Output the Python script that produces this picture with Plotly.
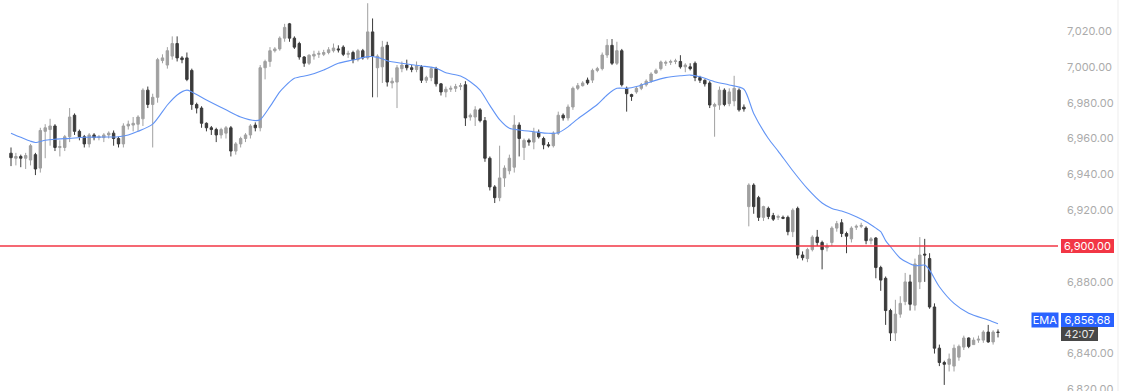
import plotly.graph_objects as go

# ---------------- data ----------------
opens = [6951.8, 6949, 6950, 6949, 6948, 6951, 6943.5, 6964, 6965, 6967,
         6955, 6955, 6961, 6973, 6964, 6961, 6957, 6962, 6960.5, 6960.5,
         6962, 6963, 6960, 6957, 6967, 6967.5, 6968, 6971, 6987, 6979,
         6983, 7003.5, 7001, 7006, 7013, 7005, 7005, 6998, 6979, 6977,
         6968.5, 6966, 6965, 6962, 6963, 6966, 6953, 6957, 6960, 6962,
         6967.5, 6966, 6999.5, 7003, 7009, 7010, 7016, 7024, 7016, 7013,
         7005.5, 7002, 7006, 7007, 7007, 7008, 7009, 7010, 7011, 7007,
         7008, 7004, 7009, 7005, 7019.5, 6999.5, 7000, 7012, 6991, 6991.5,
         6999, 7001, 6999.5, 6998.5, 7000, 6992.5, 6994, 6999, 6990.5, 6986,
         6987.5, 6988, 6989, 6990, 6972, 6972, 6976, 6970, 6949, 6933,
         6927, 6938, 6942, 6944, 6967.5, 6955, 6959, 6958, 6963.5, 6960,
         6956.5, 6956, 6963, 6973, 6971.5, 6977.6, 6988, 6989.5, 6992.6, 6992.6,
         6998, 6999, 7006.6, 7012, 7002, 7009, 6988, 6984.5, 6986, 6988,
         6990, 6992, 6996.5, 6999, 7002, 7002.5, 7003, 7003, 7000, 7000,
         7002, 6994, 6992.5, 6991, 6978, 6978.7, 6987, 6979.5, 6981, 6987,
         6977.5, 6922, 6934, 6927, 6916, 6921, 6917, 6916, 6916, 6916,
         6908, 6921, 6895, 6893, 6898, 6905, 6902, 6899, 6902, 6910,
         6913, 6907, 6904, 6910.5, 6911, 6910, 6903, 6904.5, 6888, 6882,
         6864, 6851.5, 6862, 6869, 6880, 6867, 6880, 6895.5, 6893, 6866,
         6843, 6835, 6834, 6833, 6838, 6843.6, 6848.7, 6845, 6847.5, 6847.5,
         6852, 6846.5, 6852]

highs = [6955, 6952, 6951, 6952, 6957, 6952, 6966, 6968, 6971, 6968,
         6959, 6962, 6977, 6974, 6965, 6962, 6963, 6963, 6962, 6963,
         6964, 6964.5, 6961, 6968.5, 6970, 6972, 6973, 6988, 6989, 6985,
         7005, 7007, 7011, 7017, 7017, 7006, 7008, 6999, 6980, 6978,
         6969, 6967, 6966, 6966, 6967, 6967, 6958, 6961, 6963, 6968,
         6969, 7001, 7004, 7011, 7011, 7017, 7024, 7024.5, 7017, 7014,
         7006, 7007, 7009, 7009, 7009.5, 7011, 7013, 7012, 7012, 7009,
         7009, 7010, 7010, 7035.5, 7027, 7007, 7014.5, 7014, 6994, 7001,
         7003, 7004, 7001, 7003, 7001, 6995, 7000, 7000, 6991, 6989,
         6989.5, 6990.5, 6991, 6992, 6974, 6978, 6977, 6972, 6950, 6934,
         6956, 6945, 6951, 6973, 6969, 6960, 6960, 6966, 6965, 6961,
         6958, 6964, 6975, 6974, 6979, 6989, 6991, 6992, 6994, 6999,
         7000, 7008, 7015.5, 7015.5, 7014, 7010, 6989, 6985, 6989, 6991,
         6993, 6997, 6999, 7003.5, 7003.5, 7004, 7004.5, 7006.5, 7002, 7002,
         7003, 6995, 6993, 6992, 6980, 6989, 6988, 6988, 6995, 6988,
         6979, 6935, 6935, 6928, 6922.5, 6922, 6918.5, 6917.5, 6917, 6917,
         6921, 6922, 6897, 6899, 6906, 6909, 6903, 6901.5, 6911, 6914,
         6915, 6908, 6911, 6912, 6913, 6911, 6905, 6905, 6889, 6883,
         6865, 6870, 6872, 6885, 6884, 6893, 6905, 6904, 6896, 6868,
         6845, 6836, 6840, 6845, 6845, 6850, 6849, 6849, 6850, 6853,
         6856, 6853, 6853.5]

lows = [6944.6, 6945, 6944, 6943, 6945, 6939.6, 6941, 6949, 6956, 6953,
        6950, 6953, 6958, 6962, 6959, 6955, 6955, 6959, 6959, 6958,
        6960, 6956, 6955, 6955, 6965, 6964, 6964, 6967, 6977, 6955,
        6980, 7002, 6999, 7004, 7003, 7002, 6992, 6976, 6974, 6966,
        6964, 6962, 6958, 6960, 6960, 6950, 6951, 6955, 6958, 6960,
        6964, 6964, 6993, 7000, 7008, 7009, 7014, 7014, 7010, 7004,
        7000, 7001, 7004, 7005, 7006, 7007, 7008, 7008, 7006, 7005,
        7002, 7003, 7004, 7004, 6983, 6983, 6991, 6989, 6988, 6977,
        6997, 6998, 6997, 6997, 6991, 6991, 6992, 6989, 6984, 6983,
        6986, 6986, 6987, 6967, 6970, 6967, 6969, 6947, 6931, 6924,
        6925, 6933, 6940, 6941, 6950, 6948, 6956, 6954, 6960, 6954,
        6955, 6955, 6962, 6970, 6970, 6976, 6987, 6989, 6990, 6991,
        6997, 6998, 7005, 7001, 7001, 6989, 6975, 6981, 6985, 6987,
        6989, 6991, 6996, 6998, 7000.5, 7001, 7001.5, 6999, 6997, 6998,
        6992, 6991, 6989, 6977, 6961, 6976, 6978, 6978, 6978, 6975,
        6975, 6911, 6918, 6914, 6914, 6915, 6914, 6914.5, 6915, 6906,
        6905, 6893, 6892, 6891, 6897, 6900, 6887, 6897, 6900, 6908,
        6905, 6896, 6902, 6909, 6910, 6901, 6901, 6882, 6875, 6856,
        6847, 6847, 6860, 6867, 6864, 6864, 6876, 6880, 6865, 6840,
        6833, 6822.5, 6830, 6830, 6836, 6842, 6843, 6845, 6846, 6846,
        6846, 6845, 6849]

closes = [6949.3, 6950, 6949, 6950.5, 6956, 6943, 6964.5, 6966, 6967, 6955,
          6955.5, 6961, 6972, 6964, 6961, 6957, 6962, 6960.5, 6961, 6962,
          6963, 6960, 6957, 6967, 6968, 6968.5, 6972, 6987, 6979, 6983,
          7004, 7005, 7009, 7013, 7005, 7004, 6993, 6979, 6977, 6968.5,
          6966, 6965, 6962, 6965, 6966, 6953, 6957, 6960, 6962, 6967,
          6966, 6999.5, 7003, 7009, 7010, 7016, 7022, 7016, 7011, 7005.5,
          7002, 7006.5, 7007, 7007.5, 7008, 7009.5, 7010.5, 7009.5, 7007, 7007.5,
          7004, 7009, 7005, 7019.5, 7006, 7006, 7011, 6991.5, 6992, 6999.5,
          7001, 6999.5, 6998.5, 7000.5, 6992.5, 6994, 6999, 6990.5, 6986, 6987.5,
          6988, 6989, 6989.5, 6971.5, 6973, 6976, 6970, 6949, 6933, 6927,
          6938, 6943.5, 6949, 6967.5, 6960, 6959, 6958, 6963.5, 6961, 6956.5,
          6956, 6963, 6973, 6971.5, 6977.6, 6988, 6989.5, 6991, 6991, 6998,
          6999, 7006.6, 7012, 7002, 7009, 6990, 6985, 6983.5, 6988, 6990,
          6992, 6996, 6998, 7002.7, 7002.5, 7003, 7003.3, 7000, 7001, 6999,
          6994, 6992.5, 6990.5, 6978.7, 6979, 6987, 6979, 6986, 6988, 6976,
          6976.5, 6934, 6922, 6916, 6922, 6916.5, 6915, 6916.5, 6915.5, 6908,
          6920, 6895, 6893.5, 6898, 6905, 6902, 6898, 6900, 6910, 6912.5,
          6907, 6905.5, 6910, 6911, 6911.5, 6903, 6904, 6888, 6881, 6864,
          6851.5, 6862, 6868, 6880, 6867.5, 6890, 6895, 6895, 6866, 6843,
          6835, 6834, 6837, 6843, 6844, 6848.7, 6844, 6847.5, 6848, 6852,
          6846.5, 6852, 6851.8]

# EMA values read at selected candle positions
ema_idx = [0, 2, 4, 5, 7, 9, 12, 15, 18, 22, 24, 26, 29, 32, 34, 36, 37, 40, 44, 47,
           50, 51, 53, 55, 56, 58, 61, 64, 67, 70, 73, 75, 77, 80, 84, 87, 89, 92, 94, 96,
           98, 100, 102, 104, 107, 110, 112, 114, 116, 120, 122, 124, 126, 128, 131, 134, 137, 139, 141, 144,
           147, 150, 152, 155, 157, 160, 163, 166, 168, 170, 173, 175, 177, 178, 179, 180, 182, 185, 187, 188,
           190, 193, 196, 200, 202]
ema_val = [6963, 6960.7, 6958.5, 6957.8, 6959, 6959.6, 6960.1, 6960.7, 6960.8, 6961, 6962, 6964, 6968, 6978.7, 6984.3, 6987, 6986, 6981.5, 6976, 6972,
           6970, 6970.5, 6977.8, 6986, 6989, 6993.6, 6995.4, 6998.3, 7002, 7003.8, 7005.7, 7005.3, 7003.4, 7002, 7000.5, 6999.2, 6996.7, 6994.9, 6991.7, 6987,
           6978.5, 6970.5, 6965.7, 6964.8, 6963.8, 6962.9, 6963.2, 6966.5, 6971, 6979, 6984.3, 6988, 6988, 6989, 6991.7, 6994, 6995, 6995.4, 6994.5, 6991.7,
           6989.9, 6987.5, 6974, 6960, 6953, 6942, 6932, 6924, 6921, 6919.5, 6916.4, 6913.6, 6910, 6908, 6903, 6899.6, 6893.2, 6889, 6889.4, 6886.6,
           6877.3, 6868, 6862.5, 6858.7, 6856.68]

# axis labels that stay visible (6,860 and 6,900 sit under the price tags)
tick_vals = [6820, 6840, 6880, 6920, 6940, 6960, 6980, 7000, 7020]
alert_level = 6900
ema_last = 6856.68
ema_label = "EMA"
timer_label = "42:07"

# ---------------- figure ----------------
W, H = 1127, 391
plot_right = 1058
idx = list(range(len(opens)))

fig = go.Figure()
fig.add_trace(go.Candlestick(
    x=idx, open=opens, high=highs, low=lows, close=closes,
    increasing=dict(line=dict(color="#a0a0a0", width=1), fillcolor="#a0a0a0"),
    decreasing=dict(line=dict(color="#3b3b3b", width=1), fillcolor="#3b3b3b"),
    whiskerwidth=0, showlegend=False, hoverinfo="skip"))
fig.add_trace(go.Scatter(
    x=ema_idx, y=ema_val, mode="lines",
    line=dict(color="#6294f5", width=1.1, shape="spline", smoothing=0.7),
    showlegend=False, hoverinfo="skip"))

fig.add_shape(type="line", xref="paper", yref="y", x0=0, x1=1,
              y0=alert_level, y1=alert_level, line=dict(color="#f23645", width=1.5))
fig.add_shape(type="line", xref="paper", yref="paper", x0=1118 / plot_right, x1=1118 / plot_right,
              y0=0, y1=1, line=dict(color="#ededed", width=1))

font_fam = "Inter, Roboto, 'Noto Sans', sans-serif"
lab_x = 1.0
common = dict(xref="paper", yref="y", x=lab_x, xanchor="left", showarrow=False,
              borderpad=0, borderwidth=0, height=14)
fig.add_annotation(text=f"{alert_level:,.2f}", y=alert_level, xshift=3, width=53,
                   bgcolor="#f23645", font=dict(color="white", size=11, family=font_fam), **common)
fig.add_annotation(text=f"{ema_last:,.2f}", y=ema_last, yshift=4, xshift=3, width=53,
                   bgcolor="#2962ff", font=dict(color="white", size=11, family=font_fam), **common)
fig.add_annotation(text=timer_label, y=ema_last, yshift=-10, xshift=3, width=37,
                   bgcolor="#474747", font=dict(color="#e6e6e6", size=11, family=font_fam), **common)
fig.add_annotation(text=ema_label, xref="paper", yref="y", x=lab_x, xanchor="right", xshift=1,
                   y=ema_last, yshift=4, showarrow=False, borderpad=0, width=26, height=14,
                   bgcolor="#2962ff", font=dict(color="white", size=11, family=font_fam))

px_per_idx = (998 - 11) / (len(opens) - 1)
x0 = -11 / px_per_idx
x1 = x0 + plot_right / px_per_idx
y_per_px = 20 / 35.84
y_top = 7020 + 31 * y_per_px
y_bot = y_top - H * y_per_px

fig.update_layout(
    width=W, height=H,
    margin=dict(l=0, r=W - plot_right, t=0, b=0, autoexpand=False),
    paper_bgcolor="white", plot_bgcolor="white",
    font=dict(family=font_fam),
    xaxis=dict(range=[x0, x1], visible=False, rangeslider=dict(visible=False),
               fixedrange=True, automargin=False),
    yaxis=dict(range=[y_bot, y_top], side="right", tickvals=tick_vals, tickformat=",.2f",
               showgrid=False, zeroline=False, showline=False, ticks="", automargin=False,
               ticklabelstandoff=8, ticklabeloverflow="allow",
               tickfont=dict(size=11, color="#ababab", family=font_fam)),
    hovermode=False,
)

fig.write_html("out.html")
